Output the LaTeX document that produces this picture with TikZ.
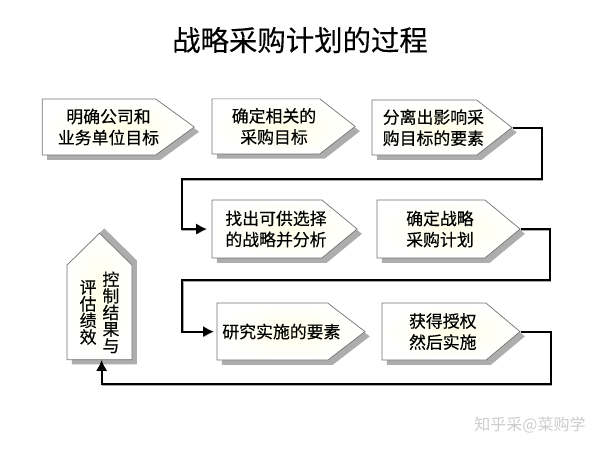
\documentclass[tikz,border=0pt]{standalone}
\usepackage{fontspec}
\setmainfont{Noto Sans CJK SC}
\newfontfamily\bodyfont[FakeBold=0.35]{Noto Sans CJK SC}
\newfontfamily\titlefont[FakeBold=0.15]{Noto Sans CJK SC}
\usetikzlibrary{arrows.meta}
\usetikzlibrary{shapes.symbols}
\usetikzlibrary{shadows}

\tikzset{
  stepbox/.style={signal, draw=black!55, line width=0.5pt, inner color=yellow!9, outer color=white,
    signal from=nowhere, signal to=east, inner sep=0pt,
    font=\bodyfont\fontsize{12}{15}\selectfont,
    drop shadow={shadow xshift=0.12cm, shadow yshift=-0.12cm, fill=black!32, opacity=1}},
  upbox/.style={stepbox, signal to=north, font=\bodyfont\fontsize{12}{11.8}\selectfont,
    drop shadow={shadow xshift=0.12cm, shadow yshift=0.12cm, fill=black!32, opacity=1}},
  flowline/.style={line width=1.3pt, black, -{Latex[length=0.27cm,width=0.28cm]}, shorten >=0.12cm,
    preaction={draw=black!35, transform canvas={xshift=0.5pt,yshift=-0.7pt}}},
}
% text of a box, moved right of the box middle
\newcommand{\stepwords}[2]{\makebox[0pt]{\hspace{#1}\parbox[c]{3.2cm}{\lineskiplimit=-12pt\centering #2}}}
\newcommand{\colchars}[1]{\parbox[c]{0.42cm}{\lineskiplimit=-12pt\centering #1}}

\begin{document}
\begin{tikzpicture}
  \useasboundingbox (0,0) rectangle (15,11.25);
  \node[font=\titlefont\fontsize{20.2}{24}\selectfont] (title) at (7.5, 10.25) {战略采购计划的过程};

  % first row
  \node[stepbox, minimum width=3.8cm, minimum height=1.4cm, signal pointer angle=72] (goals) at (2.475, 8.075) {\stepwords{0.475cm}{明确公司和\\业务单位目标}};
  \node[stepbox, minimum width=3.575cm, minimum height=1.375cm, signal pointer angle=76] (target) at (6.65, 8.09) {\stepwords{0.4cm}{确定相关的\\采购目标}};
  \node[stepbox, minimum width=3.5cm, minimum height=1.375cm, signal pointer angle=76] (factors) at (10.61, 8.06) {\stepwords{0.45cm}{分离出影响采\\购目标的要素}};

  % second row
  \node[stepbox, minimum width=3.625cm, minimum height=1.45cm, signal pointer angle=79] (choice) at (6.675, 5.525) {\stepwords{0.45cm}{找出可供选择\\的战略并分析}};
  \node[stepbox, minimum width=3.575cm, minimum height=1.45cm, signal pointer angle=79] (plan) at (10.775, 5.525) {\stepwords{0.45cm}{确定战略\\采购计划}};

  % third row
  \node[stepbox, minimum width=3.7cm, minimum height=1.425cm, signal pointer angle=75] (study) at (6.81, 2.96) {\stepwords{0.45cm}{研究实施的要素}};
  \node[stepbox, minimum width=3.45cm, minimum height=1.425cm, signal pointer angle=80] (approve) at (10.85, 2.96) {\stepwords{0.44cm}{获得授权\\然后实施}};

  % left column
  \node[upbox, minimum width=1.625cm, minimum height=2.85cm, signal pointer angle=91] (control) at (2.4875, 3.44)
    {\colchars{评\\估\\绩\\效}\hspace{0.15cm}\colchars{控\\制\\结\\果\\与}};

  \coordinate (rowa) at (13.54, 6.77);
  \coordinate (lefta) at (4.55, 6.77);
  \coordinate (rowb) at (13.75, 4.25);
  \coordinate (leftb) at (4.56, 4.25);
  \coordinate (rowc) at (13.77, 1.64);
  \coordinate (leftc) at (2.54, 1.64);

  \draw[flowline] (factors.east) -| (rowa) -- (lefta) |- (choice.west);
  \draw[flowline, shorten >=0.07cm] (plan.east) -| (rowb) -- (leftb) |- (study.west);
  \draw[flowline, shorten >=0cm] (approve.east) -| (rowc) -- (leftc) -- (control.south -| leftc);

  \node[black!20, font=\fontsize{11.4}{14}\selectfont] (mark) at (13.25, 0.63) {知乎采@菜购学};
\end{tikzpicture}
\end{document}
